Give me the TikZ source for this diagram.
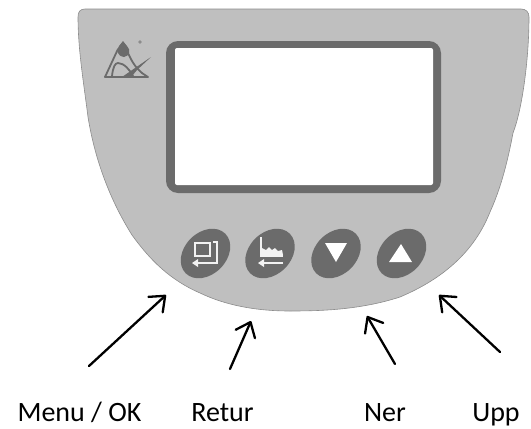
\documentclass[tikz,border=0pt]{standalone}
\usepackage{fontspec}
\setmainfont{Carlito}
\usetikzlibrary{arrows.meta}
\definecolor{panel}{gray}{0.75}
\definecolor{panelline}{gray}{0.55}
\definecolor{dark}{gray}{0.42}
\definecolor{symcol}{gray}{0.95}
\tikzset{
  lab/.style={font=\fontsize{28}{32}\selectfont,text=black,inner sep=0pt,anchor=base},
  pointer/.style={draw=black,line width=2.3pt,line cap=round,-{Straight Barb[length=13pt,width=21pt,line width=2.3pt,round]}},
  btn/.style={fill=dark,draw=none},
  sym/.style={draw=symcol,line width=2.6pt},
  logo/.style={draw=dark,line width=1.8pt,line join=round,line cap=round}
}
\begin{document}
\begin{tikzpicture}[x=1pt,y=-1pt]
\useasboundingbox (0,0) rectangle (531,429);
% panel
\draw[fill=panel,draw=panelline,line width=0.6pt]
 (85,9) -- (521,9) .. controls (526,9) and (529,12) .. (529,17)
 .. controls (529,60) and (522,110) .. (513,133)
 .. controls (507,165) and (500,190) .. (490,212)
 .. controls (475,250) and (445,278) .. (400,297)
 .. controls (360,310) and (320,311) .. (290,311)
 .. controls (255,311) and (225,305) .. (200,293)
 .. controls (170,280) and (150,260) .. (132,235)
 .. controls (110,200) and (95,160) .. (88,117)
 .. controls (84,85) and (78,50) .. (78,17)
 .. controls (78,12) and (80,9) .. (85,9) -- cycle;
% screen
\fill[dark,rounded corners=12pt] (166,41) rectangle (441,193);
\fill[white,rounded corners=2pt] (175,48) rectangle (433,185);
% logo
\fill[dark] (123,41) -- (127,46) .. controls (131,50) and (130,56) .. (124,57) .. controls (117,56) and (116,50) .. (119,46) -- cycle;
\draw[logo] (105,77) -- (118,49);
\draw[logo] (128,53) .. controls (132,62) and (136,68) .. (142,73) -- (148,77) -- (105,77);
\draw[logo] (112,76) .. controls (113,67) and (115,63) .. (118,63) .. controls (124,63) and (130,70) .. (133,76);
\fill[dark] (151,57) -- (122,77) -- (132,76) -- (137,70) -- cycle;
\fill[panelline] (140,42) circle (1.8);
% buttons
\foreach \n/\cx in {a/205.5,b/270,c/336,d/401.5}{
  \fill[btn,rotate around={45:(\cx,253.5)}] (\cx,253.5) ellipse (28 and 21);
}
% button 1 symbol
\draw[sym] (195,243) rectangle (210,256);
\draw[sym] (213,242) -- (217,242) -- (217,263) -- (196,263);
\fill[symcol] (192,263) -- (198,259) -- (198,267) -- cycle;
% button 2 symbol
\draw[sym] (261,237) -- (261,256) -- (283,256);
\fill[symcol] (262,255) -- (262,248) -- (266,250) -- (269,247) -- (272,250) -- (275,248) -- (278,251) -- (282,250) -- (283,255) -- cycle;
\draw[sym] (283,263) -- (262,263);
\fill[symcol] (258,263) -- (264,259) -- (264,267) -- cycle;
% triangles
\fill[white] (325,243) -- (347,243) -- (336,262) -- cycle;
\fill[white] (389,262) -- (412,262) -- (401,244) -- cycle;
% arrows
\coordinate (a1) at (89,366); \coordinate (b1) at (166,295);
\coordinate (a2) at (230,369); \coordinate (b2) at (251,321);
\coordinate (a3) at (395,364); \coordinate (b3) at (367,316);
\coordinate (a4) at (500,352); \coordinate (b4) at (439,295);
\draw[pointer] (a1) -- (b1);
\draw[pointer] (a2) -- (b2);
\draw[pointer] (a3) -- (b3);
\draw[pointer] (a4) -- (b4);
% labels
\node[lab] (m) at (79.5,421.5) {Menu / OK};
\node[lab] (r) at (222.5,421.5) {Retur};
\node[lab] (n) at (385,421.5) {Ner};
\node[lab] (u) at (496,421.5) {Upp};
\end{tikzpicture}
\end{document}
